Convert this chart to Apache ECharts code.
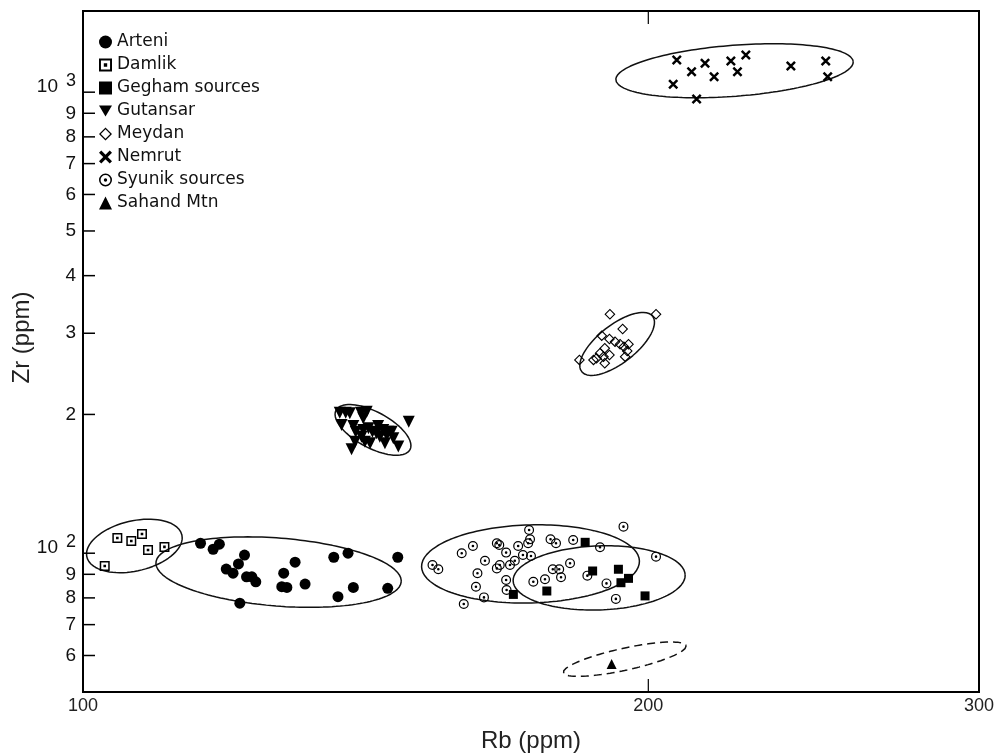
<!DOCTYPE html>
<html>
<head>
<meta charset="utf-8">
<script src="https://cdn.jsdelivr.net/npm/echarts@6/dist/echarts.min.js"></script>
<style>
  html, body { margin: 0; padding: 0; background: #ffffff; }
  #chart { width: 995px; height: 755px; }
</style>
</head>
<body>
<div id="chart"></div>
<script>
// Rb versus Zr (ppm) for obsidian samples, grouped by source.
// Each point is [Rb, Zr].
const arteni = [
  [115.5,105.1],[117.3,102.0],[118.2,104.6],[121.9,99.1],[121.0,94.8],[119.2,92.4],
  [120.2,90.5],[122.2,88.9],[123.0,88.9],[123.6,86.7],[121.2,77.9],[127.9,90.5],
  [129.7,95.6],[127.6,84.6],[128.4,84.3],[131.3,85.7],[136.0,98.0],[138.4,100.0],
  [136.7,80.5],[139.3,84.3],[145.3,83.9],[147.1,98.0]
];
const damlik = [
  [104.3,107.9],[106.1,106.3],[107.5,110.1],[108.3,101.6],[110.5,103.2],[102.7,93.8]
];
const gegham = [
  [185.1,105.6],[186.8,91.5],[192.8,92.3],[193.4,86.3],[195.2,88.2],[176.6,82.8],
  [169.5,81.4],[199.2,80.8]
];
const gutansar = [
  [137.0,201.8],[138.0,201.8],[138.7,201.2],[140.6,201.8],[141.6,202.8],[141.0,196.2],
  [137.3,189.7],[139.3,188.8],[139.7,183.5],[141.0,185.1],[141.9,186.6],[142.6,183.5],
  [143.6,188.8],[143.3,182.0],[144.5,185.1],[145.4,183.5],[146.0,183.5],[143.9,179.0],
  [145.1,180.5],[146.3,177.5],[140.7,179.0],[141.3,174.6],[139.6,174.6],[142.2,173.2],
  [144.8,173.2],[147.2,170.3],[139.0,168.1],[149.1,192.9]
];
const meydan = [
  [190.8,329.8],[201.9,329.8],[193.8,306.5],[188.9,296.4],[190.7,291.6],[192.0,287.7],
  [193.2,284.0],[194.1,280.6],[195.2,284.0],[194.9,274.6],[194.4,266.9],[189.6,278.4],
  [188.5,271.5],[187.7,264.8],[187.0,262.6],[189.3,266.9],[189.6,258.3],[190.7,269.2],
  [183.8,262.6]
];
const nemrut = [
  [207.1,1174.7],[214.4,1155.5],[210.9,1108.1],[216.8,1080.7],[221.3,1168.9],[225.4,1204.4],
  [223.1,1108.1],[206.2,1040.4],[212.2,966.7],[238.2,1140.0],[248.6,1168.9],[249.2,1080.7]
];
const syunik = [
  [153.5,94.3],[154.6,92.3],[159.1,100.0],[161.3,103.7],[159.5,77.6],[162.2,90.5],
  [161.9,84.6],[163.5,80.2],[163.7,96.3],[166.1,105.1],[166.6,104.2],[168.0,100.3],
  [166.1,92.7],[166.7,94.3],[168.0,87.5],[168.1,83.2],[168.8,94.3],[169.8,96.3],
  [170.5,103.7],[171.5,99.1],[172.6,105.1],[172.8,112.3],[173.0,107.2],[173.2,98.6],
  [177.4,107.2],[178.6,105.1],[182.4,106.8],[181.7,95.1],[177.9,92.3],[179.3,92.3],
  [179.7,88.7],[176.2,87.8],[173.7,86.7],[188.5,103.0],[185.6,89.4],[190.0,86.0],
  [192.2,79.6],[194.0,114.2],[201.9,98.3]
];
const sahand = [[191.2,57.5]];

// Group envelopes on the log-log plane:
// [centre Rb, centre Zr, half-axis A (dlogRb, dlogZr), half-axis B (dlogRb, dlogZr)]
const damlikEnvelope   = [106.5, 103.7, 0.0253, 0.0239, 0.0030, -0.0529];
const arteniEnvelope   = [127.1,  91.0, 0.0653, -0.0209, -0.0014, -0.0735];
const gutansarEnvelope = [142.7, 185.1, 0.0197, -0.0428, -0.0045, -0.0345];
const meydanEnvelope   = [192.5, 284.4, 0.0189, 0.0601, 0.0062, -0.0325];
const nemrutEnvelope   = [222.3, 1113, 0.0632, 0.0198, 0.0010, -0.0551];
const syunikEnvelope   = [173.1,  94.8, 0.0580, 0.0063, 0.0005, -0.0846];
const geghamEnvelope   = [188.3,  88.4, 0.0458, 0.0065, 0.0006, -0.0694];
const sahandEnvelope   = [194.3,  58.9, 0.0327, 0.0291, 0.0012, -0.0233];

// Axis ranges and ticks
const rbRange = [100, 300];
const zrRange = [50, 1500];
const zrTicks = [60, 70, 80, 90, 100, 200, 300, 400, 500, 600, 700, 800, 900, 1000];
const rbTicks = [200];
const rbTickLabels = [100, 200, 300];

const legendNames = ['Arteni', 'Damlik', 'Gegham sources', 'Gutansar', 'Meydan',
                     'Nemrut', 'Syunik sources', 'Sahand Mtn'];

const SYMBOLS = {
  dotSquare: 'path://M-10,-10L10,-10L10,10L-10,10Z M-7,-7L-7,7L7,7L7,-7Z M-2.6,-2.6L2.6,-2.6L2.6,2.6L-2.6,2.6Z',
  triDown: 'path://M-10,-8L10,-8L0,9Z',
  openDiamond: 'path://M0,-10L10,0L0,10L-10,0Z M0,-7.2L-7.2,0L0,7.2L7.2,0Z',
  cross: 'path://M-10,-6.5L-6.5,-10L10,6.5L6.5,10Z M6.5,-10L10,-6.5L-6.5,10L-10,6.5Z',
  dotCircle: 'path://M0,-10A10,10 0 1,1 0,10A10,10 0 1,1 0,-10Z M0,-7.6A7.6,7.6 0 1,0 0,7.6A7.6,7.6 0 1,0 0,-7.6Z M0,-2.6A2.6,2.6 0 1,1 0,2.6A2.6,2.6 0 1,1 0,-2.6Z'
};

function envelopePath(e) {
  const pts = [];
  const n = 160;
  for (let i = 0; i <= n; i++) {
    const t = (i / n) * Math.PI * 2;
    const c = Math.cos(t), s = Math.sin(t);
    pts.push([e[0] * Math.pow(10, e[2] * c + e[4] * s),
              e[1] * Math.pow(10, e[3] * c + e[5] * s)]);
  }
  return pts;
}

function envelopeSeries(name, e, dashed) {
  return {
    type: 'line', name: name, data: envelopePath(e),
    showSymbol: false, symbol: 'none', silent: true, smooth: false,
    lineStyle: { color: '#111', width: 1.5, type: dashed ? [8, 5] : 'solid' },
    z: 2, animation: false
  };
}

function pointSeries(name, data, symbol, size) {
  return {
    type: 'scatter', name: name, data: data, symbol: symbol, symbolSize: size,
    itemStyle: { color: '#000', opacity: 1 }, z: 3, animation: false,
    emphasis: { disabled: true }
  };
}

const LABEL_FONT = '19px "Liberation Sans", Arial, sans-serif';

function renderZrTick(params, api) {
  const v = api.value(1);
  const p = api.coord([rbRange[0], v]);
  const children = [{
    type: 'line',
    shape: { x1: p[0], y1: p[1], x2: p[0] + 12, y2: p[1] },
    style: { stroke: '#000', lineWidth: 1.5 }
  }];
  const exp = Math.log10(v);
  const isPow = Math.abs(exp - Math.round(exp)) < 1e-9;
  if (isPow) {
    children.push({ type: 'text', style: { text: '10', x: p[0] - 25, y: p[1] - 5,
      align: 'right', verticalAlign: 'middle', font: LABEL_FONT, fill: '#111' } });
    children.push({ type: 'text', style: { text: String(Math.round(exp)), x: p[0] - 7, y: p[1] - 11,
      align: 'right', verticalAlign: 'middle', font: '18px "Liberation Sans", Arial, sans-serif', fill: '#111' } });
  } else {
    const lead = Math.round(v / Math.pow(10, Math.floor(exp)));
    children.push({ type: 'text', style: { text: String(lead), x: p[0] - 7, y: p[1],
      align: 'right', verticalAlign: 'middle', font: LABEL_FONT, fill: '#111' } });
  }
  return { type: 'group', children: children };
}

function renderRbTick(params, api) {
  const v = api.value(0);
  const b = api.coord([v, zrRange[0]]);
  const t = api.coord([v, zrRange[1]]);
  return { type: 'group', children: [
    { type: 'line', shape: { x1: b[0], y1: b[1], x2: b[0], y2: b[1] - 13 },
      style: { stroke: '#000', lineWidth: 1.2 } },
    { type: 'line', shape: { x1: t[0], y1: t[1], x2: t[0], y2: t[1] + 13 },
      style: { stroke: '#000', lineWidth: 1.2 } }
  ] };
}

function renderRbLabel(params, api) {
  const v = api.value(0);
  const b = api.coord([v, zrRange[0]]);
  return { type: 'text', style: { text: String(v), x: b[0], y: b[1] + 14,
    align: 'center', verticalAlign: 'middle',
    font: '18px "Liberation Sans Narrow", "Liberation Sans", Arial, sans-serif', fill: '#222' } };
}

const chart = echarts.init(document.getElementById('chart'), null, { renderer: 'canvas' });

chart.setOption({
  backgroundColor: '#ffffff',
  animation: false,
  grid: { left: 83, top: 11, right: 16, bottom: 63, show: true, containLabel: false,
          outerBoundsMode: 'none',
          borderColor: '#000', borderWidth: 2, backgroundColor: 'transparent' },
  xAxis: {
    type: 'log', logBase: 10, min: rbRange[0], max: rbRange[1],
    name: 'Rb (ppm)', nameLocation: 'middle', nameGap: 37,
    nameTextStyle: { fontSize: 24, color: '#222', fontFamily: '"Liberation Sans", Arial, sans-serif' },
    axisLine: { show: true, lineStyle: { color: '#000', width: 2 } },
    axisTick: { show: false }, axisLabel: { show: false }, splitLine: { show: false }
  },
  yAxis: {
    type: 'log', logBase: 10, min: zrRange[0], max: zrRange[1],
    name: 'Zr (ppm)', nameLocation: 'middle', nameGap: 49,
    nameTextStyle: { fontSize: 24, color: '#222', fontFamily: '"Liberation Sans", Arial, sans-serif',
                     padding: [0, 0, 0, 28] },
    axisLine: { show: true, lineStyle: { color: '#000', width: 2 } },
    axisTick: { show: false }, axisLabel: { show: false }, splitLine: { show: false }
  },
  legend: {
    data: legendNames, orient: 'vertical', left: 99, top: 32, padding: 0,
    itemWidth: 13, itemHeight: 13, itemGap: 3, selectedMode: false,
    textStyle: { fontSize: 17, lineHeight: 20, color: '#111',
                 fontFamily: '"DejaVu Sans", Verdana, sans-serif', padding: [0, 0, 0, 0] }
  },
  series: [
    envelopeSeries('Damlik envelope', damlikEnvelope, false),
    envelopeSeries('Arteni envelope', arteniEnvelope, false),
    envelopeSeries('Gutansar envelope', gutansarEnvelope, false),
    envelopeSeries('Meydan envelope', meydanEnvelope, false),
    envelopeSeries('Nemrut envelope', nemrutEnvelope, false),
    envelopeSeries('Syunik envelope', syunikEnvelope, false),
    envelopeSeries('Gegham envelope', geghamEnvelope, false),
    envelopeSeries('Sahand envelope', sahandEnvelope, true),
    pointSeries('Arteni', arteni, 'circle', 11),
    pointSeries('Damlik', damlik, SYMBOLS.dotSquare, 10),
    pointSeries('Gegham sources', gegham, 'rect', 9),
    pointSeries('Gutansar', gutansar, SYMBOLS.triDown, 12),
    pointSeries('Meydan', meydan, SYMBOLS.openDiamond, 11),
    pointSeries('Nemrut', nemrut, SYMBOLS.cross, 10),
    pointSeries('Syunik sources', syunik, SYMBOLS.dotCircle, 10),
    pointSeries('Sahand Mtn', sahand, 'triangle', 10),
    { type: 'custom', name: 'zr ticks', silent: true, z: 4, animation: false,
      data: zrTicks.map(function (v) { return [rbRange[0], v]; }), renderItem: renderZrTick },
    { type: 'custom', name: 'rb ticks', silent: true, z: 4, animation: false,
      data: rbTicks.map(function (v) { return [v, zrRange[0]]; }), renderItem: renderRbTick },
    { type: 'custom', name: 'rb labels', silent: true, z: 4, animation: false,
      data: rbTickLabels.map(function (v) { return [v, zrRange[0]]; }), renderItem: renderRbLabel }
  ]
});
</script>
</body>
</html>
